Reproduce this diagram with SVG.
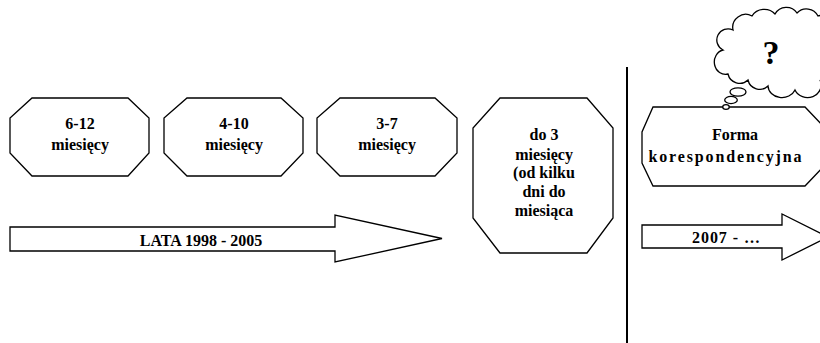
<svg xmlns="http://www.w3.org/2000/svg" width="820" height="343" viewBox="0 0 820 343">
<style>
.shape{fill:#fff;stroke:#000;stroke-width:1.3;stroke-linejoin:miter}
.t{font-family:"Liberation Serif","Times New Roman",serif;font-weight:bold;font-size:16px;fill:#000;text-anchor:middle}
</style>
<rect width="820" height="343" fill="#fff"/>
<g id="node-6-12">
<polygon class="shape" points="32,98 128,98 149,118 149,153 128,176 32,176 10,153 10,118"/>
<text class="t" x="80" y="129">6-12</text>
<text class="t" x="80" y="149.5">miesięcy</text>
</g>
<g id="node-4-10">
<polygon class="shape" points="187,98 281,98 303,118 303,153 281,176 187,176 164,153 164,118"/>
<text class="t" x="234" y="129">4-10</text>
<text class="t" x="234" y="149.5">miesięcy</text>
</g>
<g id="node-3-7">
<polygon class="shape" points="340,98 435,98 457,118 457,153 435,176 340,176 317,153 317,118"/>
<text class="t" x="387" y="129">3-7</text>
<text class="t" x="387" y="149.5">miesięcy</text>
</g>
<g id="node-do3">
<polygon class="shape" points="500,98 587,98 613,128 613,218 587,253 500,253 473,218 473,128"/>
<text class="t" x="544" y="140">do 3</text>
<text class="t" x="544" y="159.5">miesięcy</text>
<text class="t" x="544" y="178">(od kilku</text>
<text class="t" x="544" y="197">dni do</text>
<text class="t" x="544" y="215.5">miesiąca</text>
</g>
<g id="node-forma">
<polygon class="shape" points="653,107 805,107 826,129 826,164 805,186 653,186 642,163 642,132"/>
<text class="t" x="735" y="140">Forma</text>
<text class="t" x="725" y="161.5" textLength="153" lengthAdjust="spacing">korespondencyjna</text>
</g>
<g id="node-cloud">
<path class="shape" d="M728,74 A10,11 0 0 1 723,50 A11,11 0 0 1 733,30 A13,13 0 0 1 752,16 A14,13 0 0 1 775,14 A13,13 0 0 1 797,13 A13,13 0 0 1 818,16 A14,14 0 0 1 836,32 L836,60 A12,12 0 0 1 820,80 A13,12 0 0 1 795,90 A14,12 0 0 1 768,86 A12,12 0 0 1 748,80 A12,12 0 0 1 728,74 Z"/>
<ellipse class="shape" cx="738" cy="92" rx="8" ry="4.2"/>
<ellipse class="shape" cx="731" cy="100" rx="6.3" ry="3.6"/>
<ellipse class="shape" cx="726" cy="107" rx="3.3" ry="2.4"/>
<text class="t" x="771" y="64" font-size="34" style="font-size:34px">?</text>
</g>
<g id="connectors">
<line x1="627" y1="67" x2="627" y2="343" stroke="#000" stroke-width="2"/>
<g id="arrow-1998">
<polygon class="shape" points="10,227 335,227 335,215 442,238.5 335,262 335,251 10,251"/>
<text class="t" x="201" y="246">LATA 1998 - 2005</text>
</g>
<g id="arrow-2007">
<polygon class="shape" points="642,225 782,225 782,214 828,237 782,260 782,248 642,248"/>
<text class="t" x="726" y="243" textLength="68" lengthAdjust="spacing">2007 - …</text>
</g>
</g>
</svg>
